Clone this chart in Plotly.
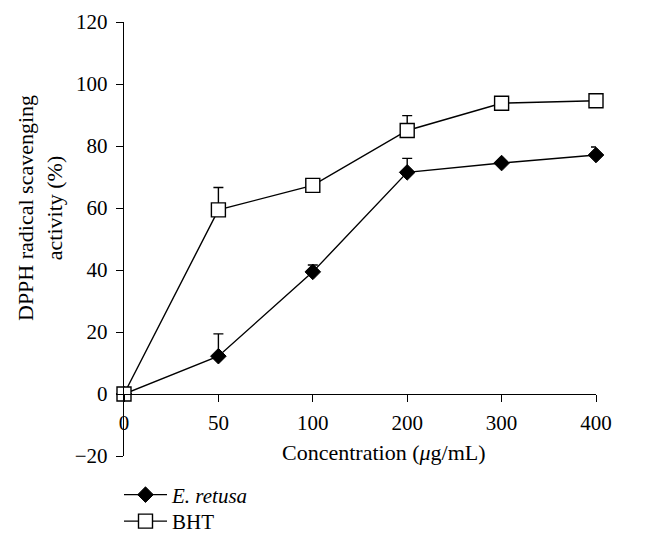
import plotly.graph_objects as go

concentrations = ["0", "50", "100", "200", "300", "400"]
e_retusa = [0, 12.2, 39.4, 71.5, 74.5, 77.1]
e_retusa_err = [0, 7.2, 2.2, 4.5, 0, 2.6]
bht = [0, 59.4, 67.3, 85.0, 93.8, 94.6]
bht_err = [0, 7.2, 0, 4.8, 0, 0]

FONT = "Liberation Serif"

fig = go.Figure()
fig.add_trace(go.Scatter(
    x=concentrations, y=e_retusa, name="<i>E. retusa</i>",
    mode="lines+markers", legend="legend",
    line=dict(color="black", width=1.4),
    marker=dict(symbol="diamond", size=12, color="black", line=dict(color="black", width=1)),
    error_y=dict(type="data", array=e_retusa_err, arrayminus=[0]*6, symmetric=False,
                 color="black", thickness=1.4, width=5),
    cliponaxis=False,
))
fig.add_trace(go.Scatter(
    x=concentrations, y=bht, name="BHT",
    mode="lines+markers", legend="legend2",
    line=dict(color="black", width=1.4),
    marker=dict(symbol="square", size=14, color="white", line=dict(color="black", width=1.4)),
    error_y=dict(type="data", array=bht_err, arrayminus=[0]*6, symmetric=False,
                 color="black", thickness=1.4, width=5),
    cliponaxis=False,
))

ymin, ymax = -20, 120
PW, PH = 472, 434  # plot area size in px
legend_common = dict(
    xanchor="left", yanchor="middle",
    font=dict(family=FONT, size=21), bgcolor="rgba(0,0,0,0)",
    itemwidth=43,
)
fig.update_layout(
    # page body has an 8px margin; keep the figure inside the 656x545 window
    width=648, height=537,
    margin=dict(l=116, r=60, t=14, b=89, autoexpand=False),
    paper_bgcolor="white", plot_bgcolor="white",
    font=dict(family=FONT, size=21, color="black"),
    xaxis=dict(
        type="category", range=[0, 5], anchor="free",
        position=(0 - ymin) / (ymax - ymin),
        showline=True, linecolor="black", linewidth=1.4,
        ticks="outside", ticklen=7, tickwidth=1.4, tickcolor="black",
        showgrid=False, zeroline=False, ticklabelstandoff=3,
        tickfont=dict(family=FONT, size=21),
    ),
    yaxis=dict(
        range=[ymin, ymax], dtick=20,
        showline=True, linecolor="black", linewidth=1.4,
        ticks="outside", ticklen=7, tickwidth=1.4, tickcolor="black",
        showgrid=False, zeroline=False, ticklabelstandoff=4,
        tickfont=dict(family=FONT, size=21),
    ),
    showlegend=True,
    legend=dict(x=(119 - 124) / PW, y=(456 - 495) / PH, **legend_common),
    legend2=dict(x=(119 - 124) / PW, y=(456 - 521.5) / PH, **legend_common),
    annotations=[
        dict(text="DPPH radical scavenging<br>activity (%)", textangle=-90,
             xref="paper", yref="y", x=(40 - 124) / PW, y=60, xanchor="center", yanchor="middle",
             showarrow=False, font=dict(family=FONT, size=22)),
        dict(text="Concentration (<i>μ</i>g/mL)",
             xref="paper", yref="paper", x=(384 - 124) / PW, y=(456 - 452) / PH,
             xanchor="center", yanchor="middle",
             showarrow=False, font=dict(family=FONT, size=22)),
    ],
)

fig.write_html("out.html")
